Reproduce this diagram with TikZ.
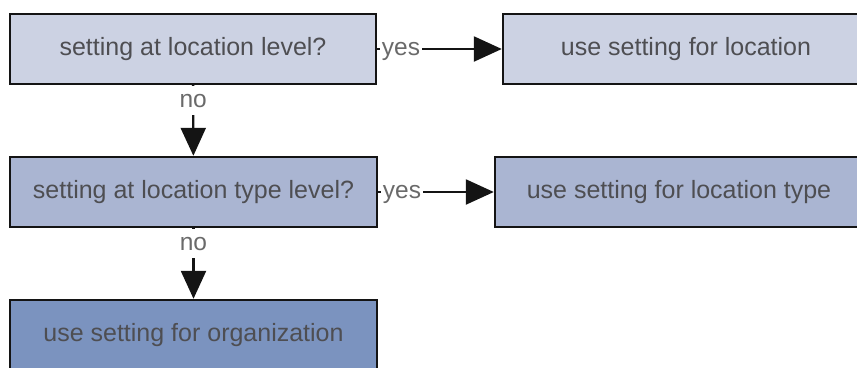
\documentclass[tikz,border=0pt]{standalone}
\usepackage{fontspec}
\setmainfont{Liberation Sans}
\usetikzlibrary{arrows.meta}

\definecolor{boxlight}{HTML}{CCD2E3}
\definecolor{boxmid}{HTML}{AAB5D2}
\definecolor{boxdark}{HTML}{7B93BF}
\definecolor{boxtext}{HTML}{4E4E52}
\definecolor{labeltext}{HTML}{6A6A6A}
\definecolor{edgeline}{HTML}{141414}

\tikzset{
  flowbox/.style={draw=edgeline, line width=2.4pt, rectangle,
    minimum height=70pt, inner sep=0pt, text=boxtext,
    font=\fontsize{25}{29}\selectfont},
  flowarrow/.style={draw=edgeline, line width=2.4pt,
    -{Triangle[length=28pt,width=25pt]}},
  yeslabel/.style={fill=white, text=labeltext, inner xsep=2pt, inner ysep=4pt,
    font=\fontsize{24.5}{28}\selectfont},
  nolabel/.style={fill=white, text=labeltext, inner xsep=3pt, inner ysep=8pt,
    font=\fontsize{24.5}{28}\selectfont}
}

\begin{document}
\begin{tikzpicture}[x=1pt, y=-1pt]
  \useasboundingbox (0,0) rectangle (857,367);
  \begin{scope}
    \clip (0,0) rectangle (857,367);

    % decision and outcome boxes
    \node[flowbox, fill=boxlight, minimum width=366pt] (qloc)  at (193,49)  {setting at location level?};
    \node[flowbox, fill=boxlight, minimum width=366pt] (uloc)  at (686,49)  {use setting for location};
    \node[flowbox, fill=boxmid,   minimum width=367pt] (qtype) at (193.5,192) {setting at location type level?};
    \node[flowbox, fill=boxmid,   minimum width=368pt] (utype) at (679,192) {use setting for location type};
    \node[flowbox, fill=boxdark,  minimum width=367pt] (uorg)  at (193.5,335) {use setting for organization};

    % yes branches
    \draw[flowarrow] (qloc) -- (uloc)
      node[yeslabel, at start, anchor=west, xshift=1.5pt, yshift=-2.5pt] {yes};
    \draw[flowarrow] (qtype) -- (utype)
      node[yeslabel, at start, anchor=west, xshift=1.5pt, yshift=-2.5pt] {yes};

    % no branches
    \draw[flowarrow] (qloc) -- (qtype)
      node[nolabel, pos=0.22] {no};
    \draw[flowarrow] (qtype) -- (uorg)
      node[nolabel, pos=0.22] {no};
  \end{scope}
\end{tikzpicture}
\end{document}
